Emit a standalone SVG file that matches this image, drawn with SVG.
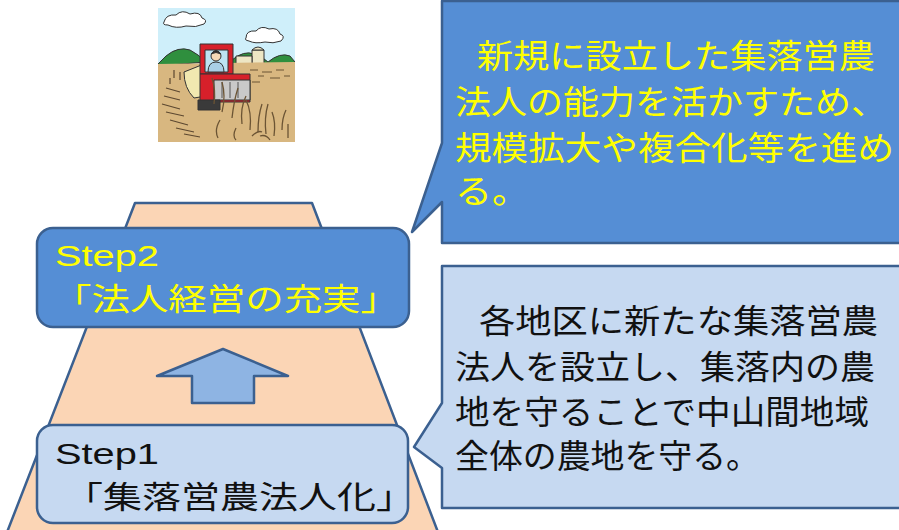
<svg xmlns="http://www.w3.org/2000/svg" width="899" height="530" viewBox="0 0 899 530">
  <style>
    .edge { stroke: #3B6090; stroke-width: 2.5; stroke-linejoin: round; }
    .dark { fill: #558ED5; }
    .light { fill: #C6D9F1; }
    .jp { font-family: "Noto Sans CJK JP", "Noto Sans", sans-serif; }
    .lat { font-family: "Liberation Sans", Arial, sans-serif; }
    .yel { fill: #FFFF00; }
    .blk { fill: #111111; }
    .art { stroke: #333; stroke-width: 1; stroke-linejoin: round; }
  </style>
  <defs>
    <clipPath id="artClip">
      <rect x="158" y="8" width="137" height="134"/>
    </clipPath>
  </defs>

  <rect x="0" y="0" width="899" height="530" fill="#FFFFFF"/>

  <!-- farm illustration: combine harvester in a rice field -->
  <g id="illustration" clip-path="url(#artClip)">
    <rect x="158" y="8" width="137" height="134" fill="#CFEFFA"/>
    <!-- clouds -->
    <path class="art" fill="#FFFFFF" d="M164,22 q2,-8 12,-7 q6,-6 14,-1 q10,-3 12,4 q6,2 2,6 q-8,4 -18,2 q-10,3 -18,-1 q-6,0 -4,-3z"/>
    <path class="art" fill="#FFFFFF" d="M246,38 q0,-8 10,-7 q5,-6 13,-2 q9,-2 11,5 q6,2 1,7 q-8,3 -16,1 q-10,2 -16,-1 q-5,-1 -3,-3z"/>
    <!-- hills -->
    <path class="art" fill="#2F8F3E" d="M158,64 L166,56 Q178,46 190,50 Q198,54 206,62 L158,66z"/>
    <path class="art" fill="#2F8F3E" d="M232,60 Q244,50 254,54 Q262,56 268,62 Q280,52 290,56 L295,62 L295,66 L232,64z"/>
    <!-- silo and shed -->
    <rect class="art" x="252" y="50" width="12" height="15" fill="#EDE6C4"/>
    <path class="art" fill="#EDE6C4" d="M252,50 q6,-6 12,0z"/>
    <rect class="art" x="236" y="56" width="16" height="9" fill="#EDE6C4"/>
    <!-- field -->
    <path fill="#D8B780" d="M158,64 L295,62 L295,142 L158,142z"/>
    <path fill="none" stroke="#6B5434" stroke-width="1" d="M250,70 h8 M262,72 h10 M276,70 h8 M258,76 h6 M270,78 h10 M284,76 h6 M252,82 h8"/>
    <!-- cut stubble rows on the left -->
    <g fill="none" stroke="#5C4830" stroke-width="1.2">
      <path d="M166,88 l14,4 M164,96 l16,4 M162,104 l18,5 M166,112 l18,4 M170,120 l18,5 M176,128 l18,4 M184,134 l16,3"/>
      <path d="M174,70 v8 M180,72 v8 M186,74 v6 M170,78 v6"/>
    </g>
    <!-- cutting head -->
    <path class="art" fill="#F1E8B0" d="M184,72 L204,64 L206,96 L194,98 Q184,88 184,72z"/>
    <!-- cabin -->
    <rect class="art" x="200" y="44" width="33" height="30" fill="#D7202A"/>
    <rect class="art" x="205" y="50" width="23" height="22" fill="#BDE3F2"/>
    <!-- driver -->
    <circle class="art" cx="216" cy="56" r="5" fill="#F6D9B6"/>
    <path class="art" fill="#2B2B2B" d="M211,54 q5,-7 10,0 q-5,-3 -10,0z"/>
    <path class="art" fill="#A9CFE6" d="M208,72 q0,-10 8,-10 q8,0 8,10z"/>
    <!-- body -->
    <rect class="art" x="200" y="74" width="50" height="28" fill="#D7202A"/>
    <rect class="art" x="214" y="80" width="36" height="20" fill="#C9C9C9"/>
    <path fill="none" stroke="#555" stroke-width="1" d="M222,82 v16 M230,82 v16 M238,82 v16"/>
    <rect class="art" x="198" y="100" width="22" height="10" fill="#3A3A3A"/>
    <!-- standing straw -->
    <g fill="none" stroke="#6B5434" stroke-width="1.3">
      <path d="M214,104 q2,-14 -2,-26 M222,112 q4,-16 0,-30 M232,118 q2,-18 6,-30 M242,124 q-2,-16 4,-28 M250,130 q2,-18 -4,-30"/>
      <path d="M258,132 q0,-16 4,-28 M266,134 q-2,-16 2,-30 M274,136 q2,-14 -2,-24 M282,130 q0,-12 4,-20 M288,138 v-14"/>
      <path d="M220,120 q-6,10 -2,18 M236,128 q-4,8 0,12 M252,136 q6,-6 10,-4 M270,140 q-4,-6 -10,-4"/>
    </g>
  </g>

  <!-- stepped base -->
  <g id="base">
    <path class="edge" fill="#FBD5B5" d="M135,203 L312,203 L441,540 L4,540 Z"/>
  </g>

  <!-- upward arrow between the steps -->
  <g id="connectors">
    <path class="edge" fill="#8EB4E3" stroke-width="2" d="M223,349 L288,376 L254,376 L254,403 L192,403 L192,376 L157,376 Z"/>
  </g>

  <!-- step 2 -->
  <g id="step2">
    <rect class="edge dark" x="37" y="228" width="372" height="99" rx="16"/>
    <text class="lat yel" x="55" y="266" font-size="29" textLength="104" lengthAdjust="spacingAndGlyphs">Step2</text>
    <text class="jp yel" x="53" y="310" font-size="31" textLength="346" lengthAdjust="spacingAndGlyphs">「法人経営の充実」</text>
  </g>

  <!-- step 1 -->
  <g id="step1">
    <rect class="edge light" x="37" y="425" width="371" height="98" rx="16"/>
    <text class="lat blk" x="55" y="464" font-size="29" textLength="104" lengthAdjust="spacingAndGlyphs">Step1</text>
    <text class="jp blk" x="64" y="508" font-size="31" textLength="351" lengthAdjust="spacingAndGlyphs">「集落営農法人化」</text>
  </g>

  <!-- callout for step 2 -->
  <g id="note2">
    <path class="edge dark" stroke-width="2" d="M442,1 L905,1 L905,243 L442,243 L442,202 L412,232 L442,143 Z"/>
    <g class="jp yel" font-size="33">
      <text x="477" y="68" textLength="398" lengthAdjust="spacingAndGlyphs">新規に設立した集落営農</text>
      <text x="455" y="114" textLength="432" lengthAdjust="spacingAndGlyphs">法人の能力を活かすため、</text>
      <text x="455" y="160" textLength="439" lengthAdjust="spacingAndGlyphs">規模拡大や複合化等を進め</text>
      <text x="455" y="203" textLength="74" lengthAdjust="spacingAndGlyphs">る。</text>
    </g>
  </g>

  <!-- callout for step 1 -->
  <g id="note1">
    <path class="edge light" stroke-width="2" d="M442,266 L905,266 L905,508 L442,508 L442,468 L414,447 L442,403 Z"/>
    <g class="jp blk" font-size="33">
      <text x="479" y="333" textLength="399" lengthAdjust="spacingAndGlyphs">各地区に新たな集落営農</text>
      <text x="455" y="379" textLength="420" lengthAdjust="spacingAndGlyphs">法人を設立し、集落内の農</text>
      <text x="455" y="424" textLength="414" lengthAdjust="spacingAndGlyphs">地を守ることで中山間地域</text>
      <text x="455" y="468" textLength="305" lengthAdjust="spacingAndGlyphs">全体の農地を守る。</text>
    </g>
  </g>

  <!-- page number -->
  <text class="lat" x="856" y="539" font-size="13" fill="#8C8C8C">11</text>
</svg>
